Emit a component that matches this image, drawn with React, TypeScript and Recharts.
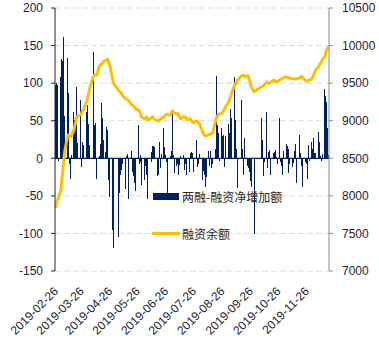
import React from 'react';
import { ComposedChart, Bar, Line, XAxis, YAxis, CartesianGrid, ReferenceLine, Legend } from 'recharts';

// trading days (2019), MM-DD
const dates = [
  '02-26', '02-27', '02-28',
  '03-01', '03-04', '03-05', '03-06', '03-07', '03-08', '03-11', '03-12', '03-13', '03-14', '03-15',
  '03-18', '03-19', '03-20', '03-21', '03-22', '03-25', '03-26', '03-27', '03-28', '03-29',
  '04-01', '04-02', '04-03', '04-04', '04-08', '04-09', '04-10', '04-11', '04-12', '04-15',
  '04-16', '04-17', '04-18', '04-19', '04-22', '04-23', '04-24', '04-25', '04-26', '04-29', '04-30',
  '05-06', '05-07', '05-08', '05-09', '05-10', '05-13', '05-14', '05-15', '05-16', '05-17',
  '05-20', '05-21', '05-22', '05-23', '05-24', '05-27', '05-28', '05-29', '05-30', '05-31',
  '06-03', '06-04', '06-05', '06-06', '06-10', '06-11', '06-12', '06-13', '06-14',
  '06-17', '06-18', '06-19', '06-20', '06-21', '06-24', '06-25', '06-26', '06-27', '06-28',
  '07-01', '07-02', '07-03', '07-04', '07-05', '07-08', '07-09', '07-10', '07-11', '07-12',
  '07-15', '07-16', '07-17', '07-18', '07-19', '07-22', '07-23', '07-24', '07-25', '07-26',
  '07-29', '07-30', '07-31',
  '08-01', '08-02', '08-05', '08-06', '08-07', '08-08', '08-09', '08-12', '08-13', '08-14',
  '08-15', '08-16', '08-19', '08-20', '08-21', '08-22', '08-23', '08-26', '08-27', '08-28',
  '08-29', '08-30',
  '09-02', '09-03', '09-04', '09-05', '09-06', '09-09', '09-10', '09-11', '09-12', '09-16',
  '09-17', '09-18', '09-19', '09-20', '09-23', '09-24', '09-25', '09-26', '09-27', '09-30',
  '10-08', '10-09', '10-10', '10-11', '10-14', '10-15', '10-16', '10-17', '10-18', '10-21',
  '10-22', '10-23', '10-24', '10-25', '10-28', '10-29', '10-30', '10-31',
  '11-01', '11-04', '11-05', '11-06', '11-07', '11-08', '11-11', '11-12', '11-13', '11-14',
  '11-15', '11-18', '11-19', '11-20', '11-21', '11-22', '11-25', '11-26', '11-27', '11-28', '11-29',
  '12-02', '12-03', '12-04', '12-05', '12-06', '12-09', '12-10', '12-11', '12-12', '12-13',
  '12-16', '12-17', '12-18', '12-19', '12-20',
];

// 两融-融资净增加额 (left axis)
const netAdd = [
  98, 100, 97,
  -3, 108, 132, 130, 161, 56, 134, 87, -8, -27, 4,
  61, 51, 55, 95, 20, 77, -11, 22, 9, 18,
  62, 71, 45, 18, 141, 5, 44, 47, -28, 3,
  19, 74, 54, 24, 8, 42, 38, -29, -51, -96, -119,
  -105, -46, -22, -16, -7, -41, 3, 6, -54, -5,
  10, -18, -24, -33, -43, 44, -7, 5, -5, -35,
  -29, -10, -22, -54, -5, 8, 17, 16, 15,
  -24, -22, 22, -13, 6, 40, 15, 4, -5, -46,
  3, 10, 64, 5, -20, -10, -8, -22, -9, 3,
  4, -15, -8, -3, -22, -18, 7, 9, 7, -18,
  24, -10, -11,
  -7, 6, -29, -17, -22, -38, -25, 10, -10, 10,
  -13, -8, 12, 109, 44, 33, -4, 40, 29, 31,
  -11, 29,
  46, 33, 66, 9, 53, 108, 51, 13, -40, 77,
  13, 11, -22, 27, -10, -13, -18, -30, -38, -101,
  53, 24, -24, -5, 62, -13, 8, 11, -22, 7,
  9, 11, 2, -8, 53, -5, -10, -22,
  10, 19, 16, 12, -19, -8, -11, -6, 10, 19,
  -33, 11, 31, 7, -10, -38, -5, -8, -28, 18, -3,
  22, 13, 27, 7, 7, 35, 22, 3, -4, 6,
  92, 83, 75, 40, 5,
];

// 融资余额 (right axis)
const balance = [
  7834, 7900, 7944,
  7960, 8080, 8230, 8330, 8476, 8580, 8786, 8809, 8800, 8786, 8790,
  8870, 8930, 8986, 9031, 9060, 9080, 9090, 9119, 9140, 9164,
  9260, 9300, 9364, 9420, 9580, 9600, 9607, 9608, 9611, 9730,
  9749, 9752, 9760, 9784, 9805, 9815, 9818, 9770, 9740, 9570, 9500,
  9400, 9385, 9375, 9360, 9335, 9295, 9290, 9282, 9274, 9260,
  9210, 9203, 9195, 9180, 9160, 9145, 9130, 9115, 9065, 9045,
  9025, 9035, 9053, 9010, 9035, 9045, 9053, 9030, 9015,
  9000, 8995, 9008, 9020, 9025, 9055, 9065, 9075, 9088, 9080,
  9075, 9100, 9133, 9120, 9110, 9085, 9097, 9070, 9053, 9025,
  9053, 9055, 9045, 9040, 9015, 9025, 9015, 9000, 8986, 8975,
  8996, 8990, 8980,
  8970, 8950, 8853, 8830, 8809, 8800, 8800, 8815, 8820, 8825,
  8830, 8835, 8990, 9040, 9060, 9075, 9088, 9100, 9119, 9140,
  9160, 9186,
  9240, 9274, 9300, 9340, 9385, 9474, 9496, 9510, 9540, 9594,
  9600, 9607, 9600, 9585, 9600, 9590, 9540, 9500, 9451, 9385,
  9451, 9455, 9460, 9474, 9518, 9500, 9496, 9500, 9510, 9540,
  9540, 9530, 9518, 9520, 9540, 9550, 9560, 9563,
  9570, 9585, 9580, 9575, 9570, 9565, 9560, 9560, 9558, 9560,
  9558, 9565, 9575, 9585, 9590, 9570, 9535, 9530, 9525, 9535, 9540,
  9560, 9585, 9610, 9640, 9673, 9720, 9740, 9760, 9780, 9807,
  9851, 9900, 9945, 9965, 9985,
];

const xTickLabels = [
  '2019-02-26', '2019-03-26', '2019-04-26', '2019-05-26', '2019-06-26',
  '2019-07-26', '2019-08-26', '2019-09-26', '2019-10-26', '2019-11-26',
];
const leftTicks = [-150, -100, -50, 0, 50, 100, 150, 200];
const rightTicks = [7000, 7500, 8000, 8500, 9000, 9500, 10000, 10500];

const DAY = 86400000;
const start = Date.UTC(2019, 1, 26);
const dayOf = (s: string) => {
  const [y, m, d] = s.split('-').map(Number);
  return Math.round((Date.UTC(y, m - 1, d) - start) / DAY);
};

const data = dates.map((s, i) => ({
  d: dayOf('2019-' + s),
  net: netAdd[i],
  bal: balance[i],
}));
const tickDays = xTickLabels.map(dayOf);
const labelByDay: Record<number, string> = {};
tickDays.forEach((d, i) => (labelByDay[d] = xTickLabels[i]));

const FONT = '"Liberation Sans", Arial, sans-serif';
const NAVY = '#002060';
const GOLD = '#FFC000';

const DateTick = (props: any) => {
  const { x, y, payload } = props;
  const tx = x + 3.5;
  const ty = y + 21;
  return (
    <text
      x={tx}
      y={ty}
      textAnchor="end"
      transform={`rotate(-45 ${tx} ${ty})`}
      fontFamily={FONT}
      fontSize={12}
      fill="#1e2430"
    >
      {labelByDay[payload.value]}
    </text>
  );
};

// thin bars snapped to whole pixels so they stay solid
const CrispBar = (props: any) => {
  const { x, y, width, height, fill } = props;
  if (height == null || width == null) return null;
  const top = height < 0 ? y + height : y;
  const h = Math.abs(height);
  const cx = x + width / 2;
  return (
    <rect
      x={Math.round(cx - 0.5)}
      y={top}
      width={1}
      height={h}
      fill={fill}
      shapeRendering="crispEdges"
    />
  );
};

const LegendBox = () => (
  <div style={{ fontFamily: '"Noto Sans CJK SC", sans-serif', fontSize: 12, color: '#262626' }}>
    <div style={{ display: 'flex', alignItems: 'center', height: 20 }}>
      <span style={{ display: 'inline-block', width: 26, height: 7, background: NAVY, marginLeft: 1, marginRight: 3 }} />
      <span>两融-融资净增加额</span>
    </div>
    <div style={{ display: 'flex', alignItems: 'center', height: 20, marginTop: 17 }}>
      <span style={{ display: 'inline-block', width: 28, height: 3, background: GOLD, marginRight: 2 }} />
      <span>融资余额</span>
    </div>
  </div>
);

const App = () => {
  return (
    <div style={{ position: 'absolute', left: 0, top: 0, background: '#fff' }}>
      <ComposedChart width={379} height={341} data={data} margin={{ top: 8, right: 0, bottom: 0, left: 0 }}>
        <CartesianGrid yAxisId="l" vertical={false} stroke="#D3DDEA" strokeDasharray="6 3" />
        <XAxis
          dataKey="d"
          type="number"
          domain={[-0.5, 297.5]}
          ticks={tickDays}
          interval={0}
          height={70}
          axisLine={false}
          tickLine={false}
          tickSize={0}
          tickMargin={0}
          tick={<DateTick />}
          allowDataOverflow
        />
        <YAxis
          yAxisId="l"
          domain={[-150, 200]}
          ticks={leftTicks}
          width={55}
          tickSize={4}
          tickMargin={8}
          axisLine={{ stroke: '#1b2438' }}
          tickLine={{ stroke: '#1b2438' }}
          tick={{ fontFamily: FONT, fontSize: 12, fill: '#1e2430' }}
          interval={0}
        />
        <YAxis
          yAxisId="r"
          orientation="right"
          domain={[7000, 10500]}
          ticks={rightTicks}
          width={50}
          tickSize={4}
          tickMargin={9}
          axisLine={{ stroke: '#8a8a8a' }}
          tickLine={{ stroke: '#8a8a8a' }}
          tick={{ fontFamily: FONT, fontSize: 12, fill: '#1e2430', textAnchor: 'start' }}
          interval={0}
        />
        <ReferenceLine yAxisId="l" y={0} stroke={NAVY} strokeWidth={1.2} />
        <Bar yAxisId="l" dataKey="net" fill={NAVY} barSize={1} shape={<CrispBar />} isAnimationActive={false} />
        <Line
          yAxisId="r"
          dataKey="bal"
          type="linear"
          stroke={GOLD}
          strokeWidth={3}
          dot={false}
          strokeLinejoin="round"
          isAnimationActive={false}
        />
        <Legend
          layout="vertical"
          align="center"
          verticalAlign="middle"
          content={<LegendBox />}
          wrapperStyle={{ left: 152, top: 186, width: 140, height: 60 }}
        />
      </ComposedChart>
    </div>
  );
};

export default App;
